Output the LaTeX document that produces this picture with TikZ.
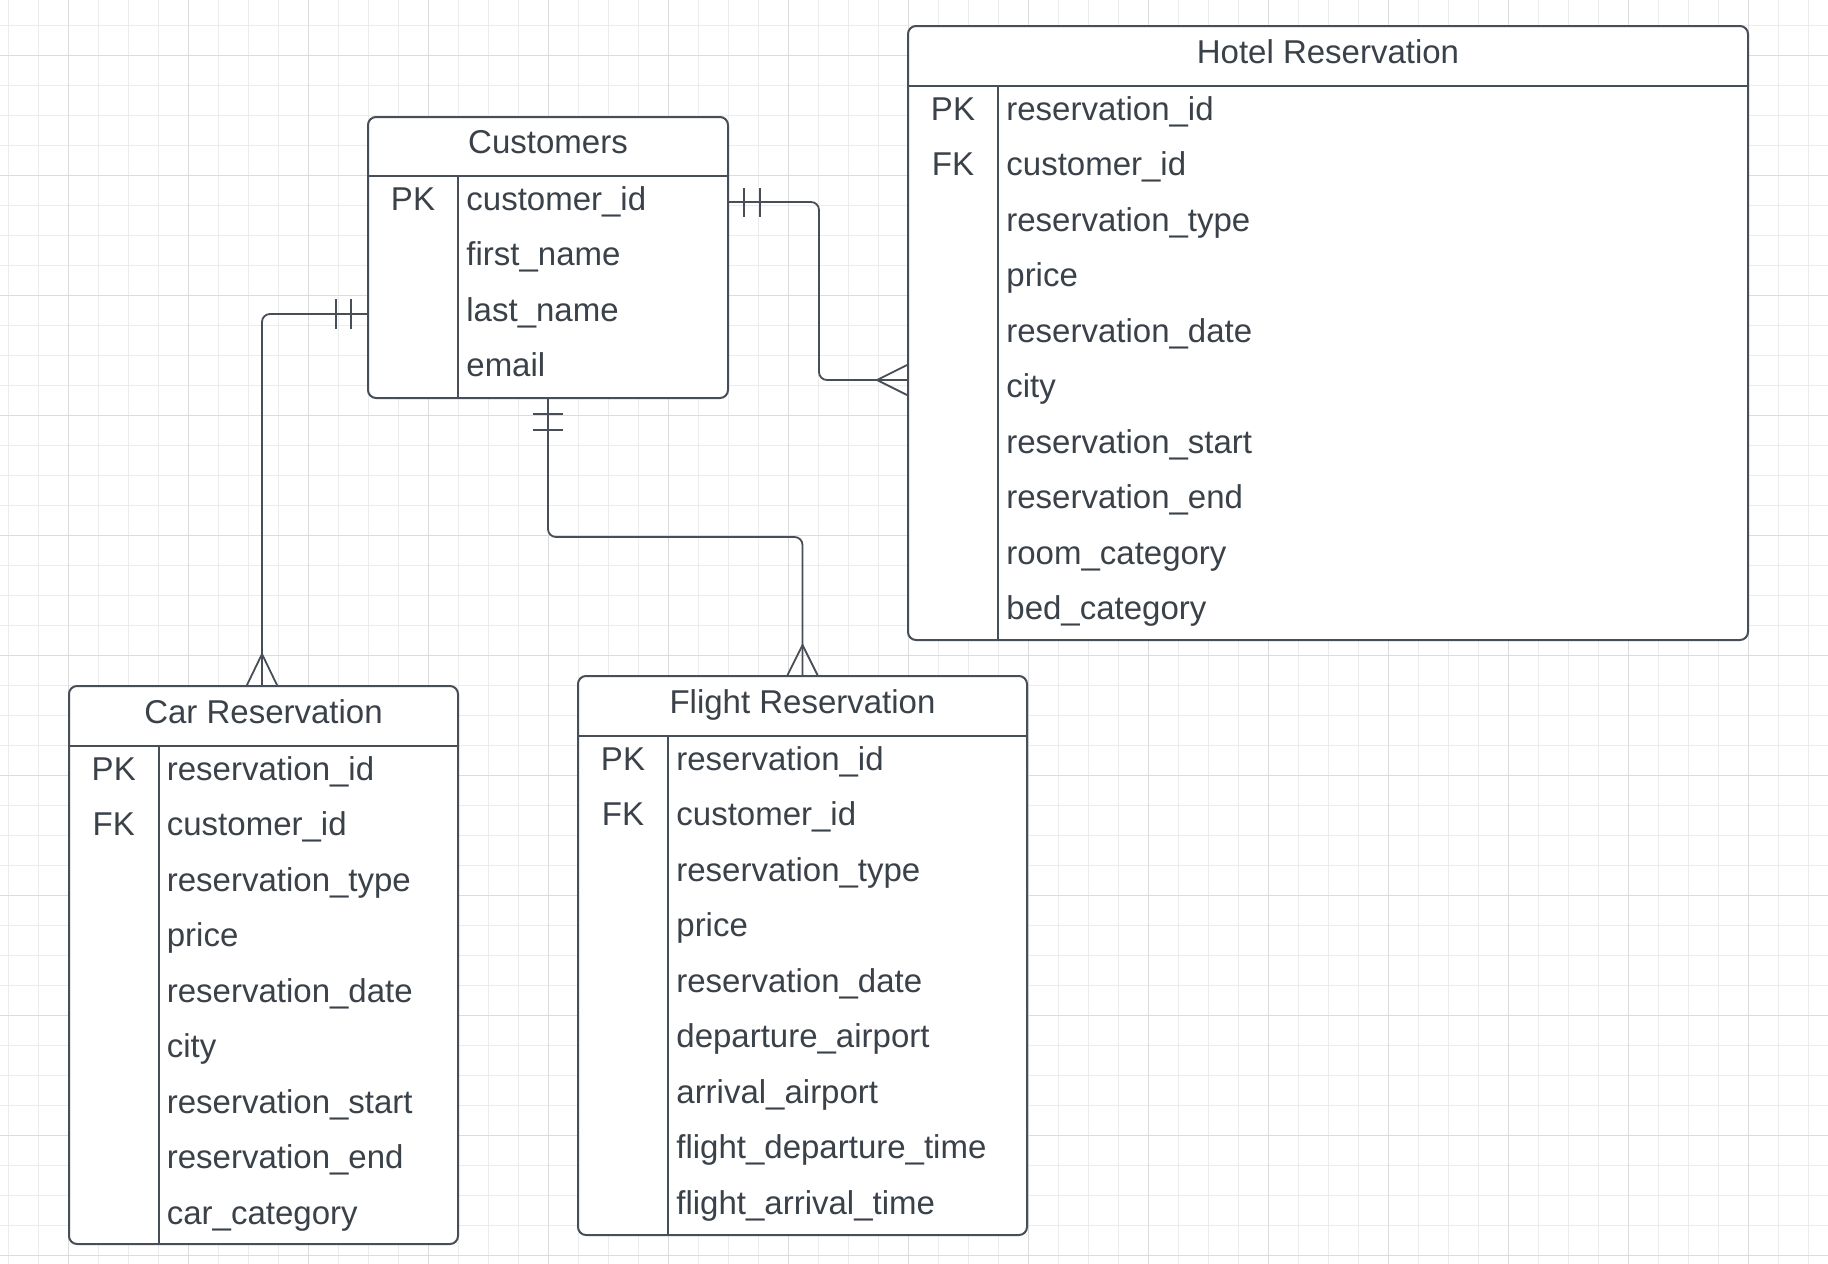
\documentclass[tikz,border=0pt]{standalone}
\usepackage{fontspec}
\setmainfont{Liberation Sans}
\usetikzlibrary{calc,fit}
\definecolor{txt}{HTML}{3A4149}
\definecolor{ln}{HTML}{474E57}
\definecolor{gminor}{HTML}{ECECEC}
\definecolor{gmajor}{HTML}{DCDCDC}
\tikzset{
  tablebox/.style={draw=ln, line width=1pt, fill=white, rounded corners=4pt, inner sep=0pt},
  tableline/.style={draw=ln, line width=1pt},
  titletext/.style={anchor=base, text=txt, font=\fontsize{16.5}{20}\selectfont, inner sep=0pt},
  keytext/.style={anchor=base, text=txt, font=\fontsize{16.5}{20}\selectfont, inner sep=0pt},
  fieldtext/.style={anchor=base west, text=txt, font=\fontsize{16.5}{20}\selectfont, inner sep=0pt},
  conn/.style={draw=ln, line width=0.9pt, rounded corners=4pt},
  endmark/.style={draw=ln, line width=0.9pt}
}
\newcommand\ertable[8]{%
  \node[tablebox, fit={(#2,#3) (#4,#5)}] (#1) {};
  \draw[tableline] (#2,#6) -- (#4,#6);
  \draw[tableline] (#7,#6) -- (#7,#5);
  \node[titletext] (#1-title) at ({(#2+#4)/2},{#6-23}) {#8};
}
\begin{document}
\begin{tikzpicture}[x=0.5pt,y=-0.5pt]
\useasboundingbox (0,0) rectangle (1828,1264);
\fill[white] (0,0) rectangle (1828,1264);
% grid
\foreach \x in {8,38,...,1828} \draw[gminor,line width=0.5pt] (\x,0) -- (\x,1264);
\foreach \y in {25,55,...,1264} \draw[gminor,line width=0.5pt] (0,\y) -- (1828,\y);
\foreach \x in {68,188,...,1828} \draw[gmajor,line width=0.5pt] (\x,0) -- (\x,1264);
\foreach \y in {55,175,...,1264} \draw[gmajor,line width=0.5pt] (0,\y) -- (1828,\y);

% Customers
\ertable{cust}{368}{117}{728}{398}{176}{458}{Customers}
\node[keytext] (cust-k1) at (413,{176+34.5}) {PK};
\foreach \f [count=\i] in {customer\_id,first\_name,last\_name,email}
  \node[fieldtext] (cust-f\i) at (466,{176+(\i-1)*55.45+34.5}) {\f};

% Hotel Reservation
\ertable{hotel}{908}{26}{1748}{640}{86}{998}{Hotel Reservation}
\node[keytext] (hotel-k1) at (953,{86+34.5}) {PK};
\node[keytext] (hotel-k2) at (953,{86+55.45+34.5}) {FK};
\foreach \f [count=\i] in {reservation\_id,customer\_id,reservation\_type,price,reservation\_date,city,reservation\_start,reservation\_end,room\_category,bed\_category}
  \node[fieldtext] (hotel-f\i) at (1006,{86+(\i-1)*55.45+34.5}) {\f};

% Car Reservation
\ertable{car}{69}{686}{458}{1244}{746}{158.5}{Car Reservation}
\node[keytext] (car-k1) at (113.75,{746+34.5}) {PK};
\node[keytext] (car-k2) at (113.75,{746+55.45+34.5}) {FK};
\foreach \f [count=\i] in {reservation\_id,customer\_id,reservation\_type,price,reservation\_date,city,reservation\_start,reservation\_end,car\_category}
  \node[fieldtext] (car-f\i) at (166.5,{746+(\i-1)*55.45+34.5}) {\f};

% Flight Reservation
\ertable{flight}{578}{676}{1027}{1235}{736}{668}{Flight Reservation}
\node[keytext] (flight-k1) at (623,{736+34.5}) {PK};
\node[keytext] (flight-k2) at (623,{736+55.45+34.5}) {FK};
\foreach \f [count=\i] in {reservation\_id,customer\_id,reservation\_type,price,reservation\_date,departure\_airport,arrival\_airport,flight\_departure\_time,flight\_arrival\_time}
  \node[fieldtext] (flight-f\i) at (676,{736+(\i-1)*55.45+34.5}) {\f};

% connector end points
\coordinate (custR) at ($(cust.north east)+(0,86)$);
\coordinate (hotL)  at ($(hotel.north west)+(0,355)$);
\coordinate (custL) at ($(cust.north west)+(0,198)$);
\coordinate (carT)  at ($(car.north)+(-1.5,0)$);
\coordinate (custB) at (cust.south);
\coordinate (fltT)  at (flight.north);

% Customers -- Hotel
\draw[conn] (custR) -- ++(90,0) |- (hotL);
\draw[endmark] ($(custR)+(15,-14.5)$) -- ++(0,29);
\draw[endmark] ($(custR)+(31,-14.5)$) -- ++(0,29);
\draw[endmark] ($(hotL)+(0,-15)$) -- ($(hotL)+(-30,0)$) -- ($(hotL)+(0,15)$);

% Customers -- Car
\draw[conn] (custL) -| (carT);
\draw[endmark] ($(custL)+(-16,-15)$) -- ++(0,30);
\draw[endmark] ($(custL)+(-31,-15)$) -- ++(0,30);
\draw[endmark] ($(carT)+(-15,0)$) -- ($(carT)+(0,-31)$) -- ($(carT)+(15,0)$);

% Customers -- Flight
\draw[conn] (custB) -- ++(0,138) -| (fltT);
\draw[endmark] ($(custB)+(-15,15)$) -- ++(30,0);
\draw[endmark] ($(custB)+(-15,31)$) -- ++(30,0);
\draw[endmark] ($(fltT)+(-15,0)$) -- ($(fltT)+(0,-30)$) -- ($(fltT)+(15,0)$);
\end{tikzpicture}
\end{document}
